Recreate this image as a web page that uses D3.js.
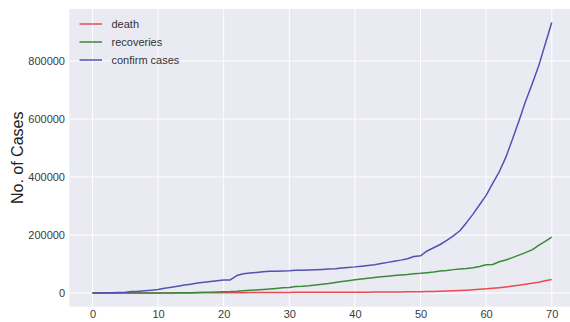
<!DOCTYPE html>
<html>
<head>
<meta charset="utf-8">
<script src="https://cdn.jsdelivr.net/npm/d3@7"></script>
<style>
  html, body { margin: 0; padding: 0; background: #ffffff; }
  svg { display: block; }
  text { font-family: "Liberation Sans", Arial, sans-serif; }
</style>
</head>
<body>
<svg id="chart" width="570" height="322"></svg>
<script>
// Day index 0..70 (global totals)
const confirmed = [555,654,941,1434,2118,2927,5578,6166,8234,9927,
  12038,16787,19887,23898,27643,30802,34395,37129,40160,42769,
  44811,45229,60381,66907,69051,71235,73270,75152,75652,76212,
  76843,78599,78985,79570,80415,81397,82756,84124,86013,88371,
  90309,92844,95124,97886,101800,105836,109835,113582,118582,125865,
  128343,145193,156099,167447,181546,197168,214915,242713,272167,304528,
  336953,378235,418045,467653,529591,593291,660706,720117,782365,857487,
  932605];
const deaths = [17,18,26,42,56,82,131,133,171,213,
  259,362,426,492,564,634,719,806,906,1013,
  1113,1118,1371,1523,1666,1770,1868,2007,2122,2247,
  2251,2458,2469,2629,2708,2770,2814,2872,2941,2996,
  3085,3160,3254,3348,3460,3558,3802,3988,4262,4615,
  4720,5404,5819,6440,7126,7905,8733,9867,11299,12973,
  14623,16497,18615,21181,23970,27198,30652,33925,37582,42107,
  46809];
const recoveries = [28,30,36,39,52,61,107,126,143,222,
  284,472,623,852,1124,1487,2011,2616,3244,3946,
  4683,5150,6295,8058,9395,10865,12583,14352,16121,18177,
  18890,22886,23394,25227,27905,30384,33277,36711,39782,42716,
  45602,48228,51170,53796,55865,58358,60694,62494,64404,67003,
  68324,70251,72624,76034,78088,80840,83207,84854,87256,91499,
  97704,98351,107990,113787,122150,130915,139415,149082,164566,178034,
  193177];
const xTicks = [0,10,20,30,40,50,60,70];
const yTicks = [0,200000,400000,600000,800000];
const seriesNames = ["death","recoveries","confirm cases"];
const seriesColors = ["#ec4a50","#3a8a3a","#5252b2"];
const seriesData = [deaths, recoveries, confirmed];

(function () {
const svg = d3.select("#chart");
const pLeft = 69.5, pRight = 574.7, pTop = 9, pBottom = 306.6;

const n = confirmed.length - 1;
const xPad = n * 0.05;
const yMax = d3.max(confirmed);
const yPad = yMax * 0.05;
const x = d3.scaleLinear().domain([-xPad, n + xPad]).range([pLeft, pRight]);
const y = d3.scaleLinear().domain([-yPad, yMax + yPad]).range([pBottom, pTop]);

svg.append("defs").append("clipPath").attr("id", "clip")
  .append("rect").attr("x", pLeft).attr("y", pTop).attr("width", pRight - pLeft).attr("height", pBottom - pTop);

svg.append("rect").attr("x", pLeft).attr("y", pTop)
  .attr("width", pRight - pLeft).attr("height", pBottom - pTop).attr("fill", "#eaeaf2");

const g = svg.append("g").attr("clip-path", "url(#clip)");
g.selectAll("line.gx").data(xTicks).enter().append("line")
  .attr("x1", d => x(d)).attr("x2", d => x(d)).attr("y1", pTop).attr("y2", pBottom)
  .attr("stroke", "#ffffff").attr("stroke-width", 1);
g.selectAll("line.gy").data(yTicks).enter().append("line")
  .attr("y1", d => y(d)).attr("y2", d => y(d)).attr("x1", pLeft).attr("x2", pRight)
  .attr("stroke", "#ffffff").attr("stroke-width", 1);

const xAxis = d3.axisBottom(x).tickValues(xTicks).tickSize(0).tickPadding(3.5).tickFormat(d3.format("d"));
const gx = svg.append("g").attr("transform", `translate(0,${pBottom})`).call(xAxis);
gx.select(".domain").remove();
gx.selectAll("text").attr("font-size", 11).attr("fill", "#3a3a3a")
  .style("font-family", "'Liberation Sans', Arial, sans-serif");

const yAxis = d3.axisLeft(y).tickValues(yTicks).tickSize(0).tickPadding(4.5).tickFormat(d3.format("d"));
const gy = svg.append("g").attr("transform", `translate(${pLeft},0)`).call(yAxis);
gy.select(".domain").remove();
gy.selectAll("text").attr("font-size", 11).attr("fill", "#3a3a3a")
  .style("font-family", "'Liberation Sans', Arial, sans-serif");

svg.append("text")
  .attr("transform", `translate(23,${(pTop + pBottom) / 2}) rotate(-90)`)
  .attr("text-anchor", "middle")
  .attr("font-size", 16).attr("fill", "#222222")
  .text("No. of Cases");

const line = d3.line().x((d, i) => x(i)).y(d => y(d));
seriesData.forEach((s, k) => {
  g.append("path").datum(s).attr("d", line)
    .attr("fill", "none").attr("stroke", seriesColors[k])
    .attr("stroke-width", 1.5).attr("stroke-linejoin", "round");
});

const leg = svg.append("g");
seriesNames.forEach((name, k) => {
  const ly = 24 + k * 18;
  leg.append("line").attr("x1", 79.5).attr("x2", 102).attr("y1", ly).attr("y2", ly)
    .attr("stroke", seriesColors[k]).attr("stroke-width", 1.5);
  leg.append("text").attr("x", 111.5).attr("y", ly + 4)
    .attr("font-size", 11).attr("fill", "#333333").text(name);
});
})();
</script>
</body>
</html>
